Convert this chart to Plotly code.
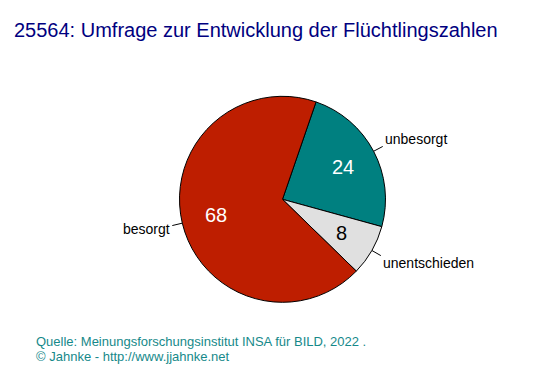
import math
import plotly.graph_objects as go

# ---- data ----
labels = ["unbesorgt", "unentschieden", "besorgt"]
values = [24, 8, 68]
slice_colors = ["#008080", "#E0E0E0", "#BE1E00"]
value_colors = ["white", "black", "white"]
title_text = "25564: Umfrage zur Entwicklung der Flüchtlingszahlen"
source_lines = ["Quelle: Meinungsforschungsinstitut INSA für BILD, 2022 .",
                "© Jahnke - http://www.jjahnke.net"]

# ---- layout geometry (pixels) ----
W, H = 553, 376
CX, CY, R = 282.5, 199.3, 103.0
ROT = 19.0
FONT = "Liberation Sans, Arial, sans-serif"

def px(x):
    return x / W

def py(y):
    return 1 - y / H

fig = go.Figure(go.Pie(
    labels=labels, values=values, sort=False, direction="clockwise",
    rotation=ROT, textinfo="none", hoverinfo="label+value",
    marker=dict(colors=slice_colors, line=dict(color="black", width=1)),
    domain=dict(x=[px(CX - R), px(CX + R)], y=[py(CY + R), py(CY - R)]),
    showlegend=False,
))

total = sum(values)
cum = 0
annotations = []
shapes = []
for lab, v, vc in zip(labels, values, value_colors):
    mid = math.radians(ROT + 360.0 * (cum + v / 2) / total)
    cum += v
    sx, sy = math.sin(mid), -math.cos(mid)
    # value inside
    annotations.append(dict(
        x=px(CX + 0.665 * R * sx), y=py(CY + 0.665 * R * sy),
        xref="paper", yref="paper", text=str(v), showarrow=False,
        font=dict(family=FONT, size=20, color=vc),
        xanchor="center", yanchor="middle"))
    # leader line
    shapes.append(dict(
        type="line", xref="paper", yref="paper",
        x0=px(CX + R * sx), y0=py(CY + R * sy),
        x1=px(CX + 1.1 * R * sx), y1=py(CY + 1.1 * R * sy),
        line=dict(color="black", width=1)))
    # label outside
    annotations.append(dict(
        x=px(CX + 1.1 * R * sx), y=py(CY + 1.25 * R * sy),
        xref="paper", yref="paper", text=lab, showarrow=False,
        font=dict(family=FONT, size=14, color="black"),
        xanchor="left" if sx > 0 else "right", yanchor="middle"))

annotations.append(dict(
    x=px(12), y=py(29.5), xref="paper", yref="paper", text=title_text,
    showarrow=False, xanchor="left", yanchor="middle",
    font=dict(family=FONT, size=20, color="#000080")))
for i, line in enumerate(source_lines):
    annotations.append(dict(
        x=px(34), y=py(341.5 + 15 * i), xref="paper", yref="paper", text=line,
        showarrow=False, xanchor="left", yanchor="middle",
        font=dict(family=FONT, size=13, color="#16898A")))

fig.update_layout(
    width=W, height=H, margin=dict(l=0, r=0, t=0, b=0),
    paper_bgcolor="white", plot_bgcolor="white",
    annotations=annotations, shapes=shapes,
)

fig.write_html("out.html", config={"displayModeBar": False},
               post_script="document.body.style.margin='0';")
